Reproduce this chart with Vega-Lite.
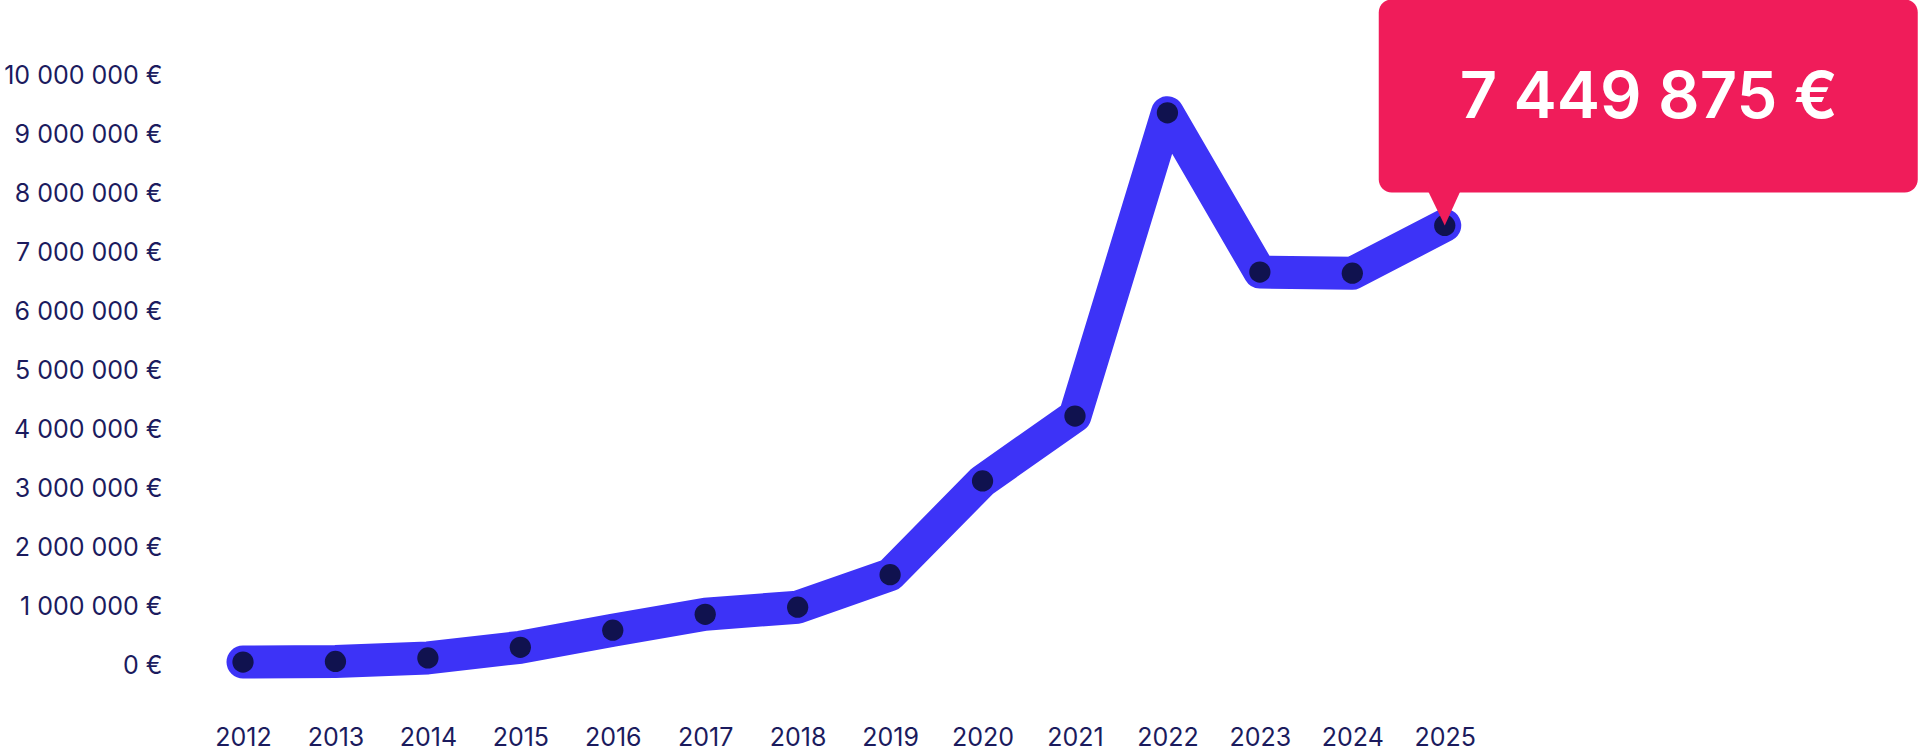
{
  "$schema": "https://vega.github.io/schema/vega-lite/v6.json",
  "width": 1740,
  "height": 590,
  "autosize": {"type": "none"},
  "padding": {"left": 180, "top": 75, "right": 0, "bottom": 89},
  "background": "white",
  "data": {
    "values": [
      {"year": 2012, "value": 50000},
      {"year": 2013, "value": 60000},
      {"year": 2014, "value": 120000},
      {"year": 2015, "value": 300000},
      {"year": 2016, "value": 590000},
      {"year": 2017, "value": 860000},
      {"year": 2018, "value": 980000},
      {"year": 2019, "value": 1530000},
      {"year": 2020, "value": 3120000},
      {"year": 2021, "value": 4220000},
      {"year": 2022, "value": 9360000},
      {"year": 2023, "value": 6660000},
      {"year": 2024, "value": 6640000},
      {"year": 2025, "value": 7449875}
    ]
  },
  "encoding": {
    "x": {
      "field": "year",
      "type": "quantitative",
      "scale": {"domain": [2011.3185, 2030.141], "nice": false, "zero": false},
      "axis": {
        "title": null,
        "values": [2012, 2013, 2014, 2015, 2016, 2017, 2018, 2019, 2020, 2021, 2022, 2023, 2024, 2025],
        "format": "d",
        "domain": false,
        "ticks": false,
        "grid": false,
        "labelPadding": 60,
        "labelFontSize": 25,
        "labelFont": "Inter",
        "labelColor": "#1B1B5E"
      }
    },
    "y": {
      "field": "value",
      "type": "quantitative",
      "scale": {"domain": [0, 10000000], "nice": false},
      "axis": {
        "title": null,
        "values": [0, 1000000, 2000000, 3000000, 4000000, 5000000, 6000000, 7000000, 8000000, 9000000, 10000000],
        "format": "$,d",
        "domain": false,
        "ticks": false,
        "grid": false,
        "labelPadding": 18,
        "labelFontSize": 25,
        "labelFont": "Inter",
        "labelColor": "#1B1B5E"
      }
    }
  },
  "layer": [
    {
      "mark": {"type": "line", "color": "#3D33F7", "strokeWidth": 33, "strokeCap": "round", "strokeJoin": "round"}
    },
    {
      "mark": {"type": "point", "filled": true, "shape": "circle", "size": 452, "color": "#10124F", "opacity": 1}
    },
    {
      "transform": [{"filter": "datum.year == 2025"}],
      "mark": {
        "type": "rect",
        "color": "#F01C5A",
        "cornerRadius": 13,
        "xOffset": -66,
        "x2Offset": 473,
        "yOffset": -226,
        "y2Offset": -33
      },
      "encoding": {
        "x2": {"field": "year"},
        "y2": {"field": "value"}
      }
    },
    {
      "transform": [{"filter": "datum.year == 2025"}],
      "mark": {
        "type": "point",
        "filled": true,
        "size": 4,
        "opacity": 1,
        "color": "#F01C5A",
        "shape": "M-16,-38L15,-38L15,-33L0,0L-16,-33Z"
      }
    },
    {
      "transform": [{"filter": "datum.year == 2025"}],
      "mark": {
        "type": "text",
        "color": "white",
        "font": "Inter",
        "fontSize": 65,
        "fontWeight": 600,
        "align": "center",
        "baseline": "middle",
        "dx": 204,
        "dy": -127
      },
      "encoding": {
        "text": {"field": "value", "type": "quantitative", "format": "$,d"}
      }
    }
  ],
  "config": {
    "view": {"stroke": null},
    "locale": {"number": {"decimal": ",", "thousands": " ", "grouping": [3], "currency": ["", " €"]}}
  }
}
